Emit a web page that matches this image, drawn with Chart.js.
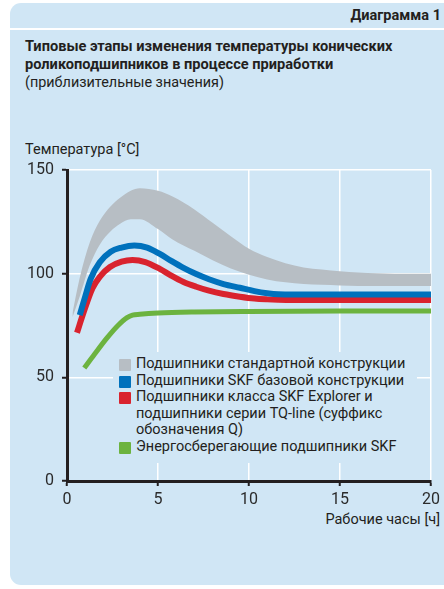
<!DOCTYPE html>
<html>
<head>
<meta charset="utf-8">
<script src="https://cdn.jsdelivr.net/npm/chart.js@4"></script>
<style>
  body { margin: 0; background: #fff; font-family: Roboto, sans-serif; color: #231f20; }
  #wrap { position: relative; width: 444px; height: 589px; overflow: hidden; }
  #panel { position: absolute; left: 10px; top: 3px; width: 450px; height: 582px; background: #d0e6f5; border-radius: 11px 0 0 11px; }
  #sep { position: absolute; left: 10px; top: 28px; width: 440px; height: 2px; background: #fff; }
  .txt { position: absolute; white-space: nowrap; }
  #legend { position: absolute; left: 113px; top: 352px; width: 304px; height: 111px; background: #d0e6f5; }
  .item { position: absolute; left: 0; font-size: 14.5px; line-height: 16.5px; }
  .item span.box { position: absolute; left: 6px; top: 3px; width: 12px; height: 12px; border-radius: 1px; }
  .item span.lab { position: absolute; left: 23px; white-space: nowrap; }
  canvas { position: absolute; left: 0; top: 0; }
</style>
</head>
<body>
<div id="wrap">
  <div id="panel"></div>
  <div id="sep"></div>
  <div class="txt" style="right:3px; top:7px; font-size:14.5px; font-weight:bold;">Диаграмма 1</div>
  <div class="txt" style="left:25px; top:37px; font-size:14.6px; font-weight:bold; line-height:18px;">Типовые этапы изменения температуры конических<br>роликоподшипников в процессе приработки</div>
  <div class="txt" style="left:25px; top:74px; font-size:14.4px;">(приблизительные значения)</div>
  <div class="txt" style="left:25px; top:141px; font-size:14.5px;">Температура [°C]</div>
  <div class="txt" style="right:4px; top:511px; font-size:14.5px;">Рабочие часы [ч]</div>
  <canvas id="chart" width="444" height="589"></canvas>
  <div id="legend"></div>
</div>
<script>
// hours / temperature
const greyHours = [0.3, 0.7, 1.25, 1.8, 2.4, 2.9, 3.5, 4, 5, 5.8, 7, 8, 9, 10, 11, 12, 13, 14, 15, 16, 17, 18, 20];
const greyUpper = [81, 98, 115, 125.5, 132.5, 136.5, 140, 141.2, 140, 137.2, 131, 124.5, 118, 112, 108, 105, 103, 102, 101.2, 100.6, 100.2, 100, 100];
const greyLower = [79, 89, 104, 114, 120.5, 124, 126.2, 126.3, 121.5, 116.5, 111, 106.5, 102.5, 99.5, 97.2, 95.8, 95, 94.6, 94.3, 94.1, 94, 94, 94];

const blueHours = [0.7, 1.0, 1.3, 1.8, 2.4, 3, 3.7, 4.4, 5.1, 5.7, 6.4, 7.1, 7.8, 8.6, 9.5, 10.3, 11, 11.6, 12.5, 20];
const blueTemp = [80, 89, 97.5, 105.5, 110.6, 112.6, 113.6, 112.6, 109.5, 106.3, 102.8, 99.8, 97.3, 95, 93.2, 91.6, 90.6, 90.1, 90, 90];

const redHours = [0.55, 0.9, 1.4, 1.8, 2.36, 3, 3.6, 4.3, 5.1, 5.7, 6.4, 7.1, 7.8, 8.6, 9.5, 10.3, 11, 11.6, 12.5, 20];
const redTemp = [71.5, 81, 93, 98.5, 103.2, 105.8, 106.6, 105.6, 102.3, 99.2, 96, 93.7, 91.8, 90.2, 88.9, 88, 87.6, 87.4, 87.3, 87.3];

const greenHours = [0.95, 1.5, 2.2, 2.8, 3.3, 3.6, 4, 5, 7, 10, 15, 20];
const greenTemp = [54.5, 61, 69, 75, 78.8, 80, 80.4, 81, 81.5, 81.8, 82, 82];

const xTicks = [0, 5, 10, 15, 20];
const yTicks = [0, 50, 100, 150];

const legendLabels = [
  'Подшипники стандартной конструкции',
  'Подшипники SKF базовой конструкции',
  'Подшипники класса SKF Explorer и<br>подшипники серии TQ-line (суффикс<br>обозначения Q)',
  'Энергосберегающие подшипники SKF'
];
const colors = ['#b7bec4', '#0071bc', '#d9232e', '#6cb33f'];

const pts = (xs, ys) => xs.map((x, i) => ({ x: x, y: ys[i] }));

// legend (html, covers grid lines like the original)
const legendTops = [4, 20.5, 37, 86.5];
document.getElementById('legend').innerHTML = legendLabels.map((t, i) =>
  `<div class="item" style="top:${legendTops[i]}px"><span class="box" style="background:${colors[i]}"></span><span class="lab">${t}</span></div>`
).join('');

const axisColor = '#231f20';

new Chart(document.getElementById('chart'), {
  type: 'line',
  data: {
    datasets: [
      { data: pts(greyHours, greyUpper), borderWidth: 0, backgroundColor: colors[0], fill: '+1', order: 5 },
      { data: pts(greyHours, greyLower), borderWidth: 0, fill: false, order: 6 },
      { data: pts(blueHours, blueTemp), borderColor: colors[1], borderWidth: 6, order: 2 },
      { data: pts(redHours, redTemp), borderColor: colors[2], borderWidth: 6, order: 3 },
      { data: pts(greenHours, greenTemp), borderColor: colors[3], borderWidth: 5, order: 1 }
    ]
  },
  options: {
    responsive: false,
    animation: false,
    devicePixelRatio: 1,
    layout: { padding: { left: 0, top: 170, right: 12, bottom: 0 } },
    elements: {
      point: { radius: 0 },
      line: { cubicInterpolationMode: 'monotone', borderCapStyle: 'butt' }
    },
    plugins: { legend: { display: false }, tooltip: { enabled: false } },
    scales: {
      x: {
        type: 'linear', min: 0, max: 20,
        afterBuildTicks: s => { s.ticks = xTicks.map(v => ({ value: v })); },
        afterFit: s => { s.height = 108; },
        grid: { color: '#ffffff', lineWidth: 1.5, tickColor: axisColor, tickLength: 5, tickWidth: 2 },
        border: { color: axisColor, width: 3 },
        ticks: { color: '#2b2b2b', font: { family: 'Roboto', size: 16 }, padding: 4, maxRotation: 0 }
      },
      y: {
        min: 0, max: 150,
        afterBuildTicks: s => { s.ticks = yTicks.map(v => ({ value: v })); },
        afterFit: s => { s.width = 67; },
        grid: { color: '#ffffff', lineWidth: 1.5, tickColor: axisColor, tickLength: 5, tickWidth: 2 },
        border: { color: axisColor, width: 3 },
        ticks: { color: '#2b2b2b', font: { family: 'Roboto', size: 16 }, padding: 8 }
      }
    }
  }
});
</script>
</body>
</html>
